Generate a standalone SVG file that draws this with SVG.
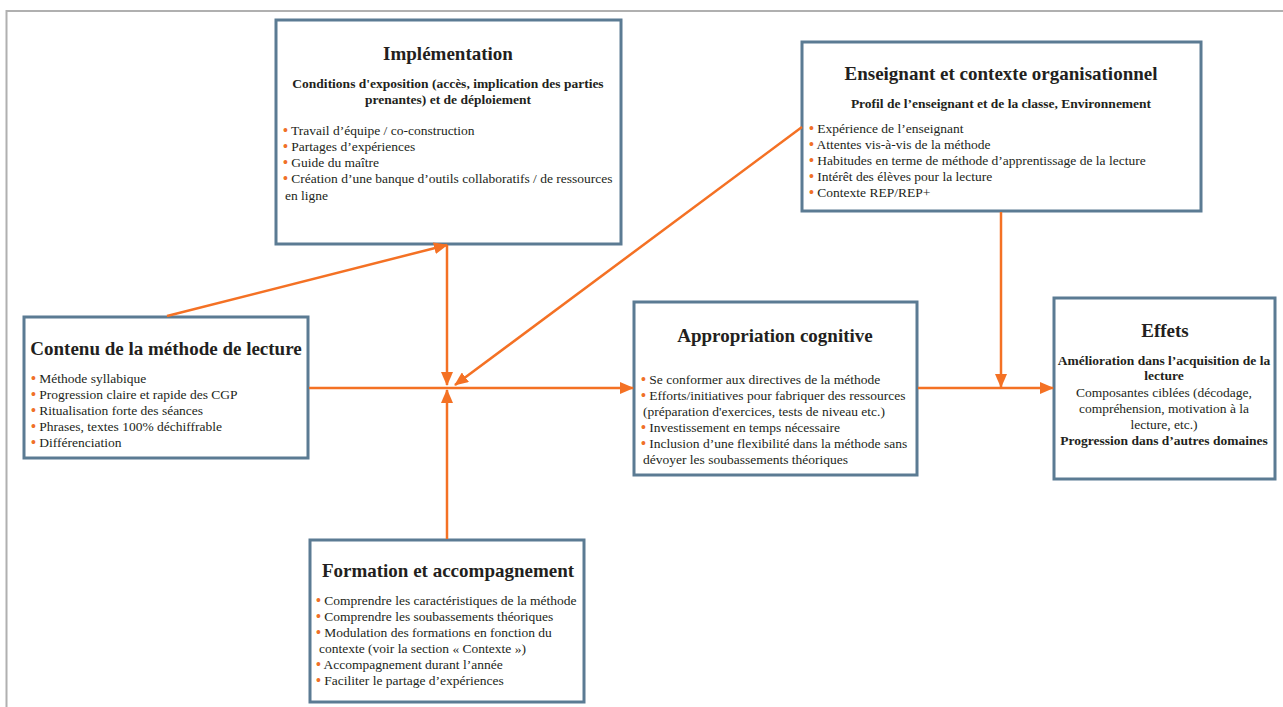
<svg xmlns="http://www.w3.org/2000/svg" width="1283" height="707" viewBox="0 0 1283 707">
<style>
.box{fill:#fff;stroke:#5b7b93;stroke-width:3}
.t{font-family:"Liberation Serif","Times New Roman",serif;fill:#231f20}
.title{font-size:19px;font-weight:bold;text-anchor:middle}
.sub{font-size:13.5px;font-weight:bold;text-anchor:middle}
.li{font-size:13.5px}
.b{fill:#f07027;font-size:14px;font-weight:bold}
.c{font-size:13.5px;text-anchor:middle}
.cb{font-size:13.5px;font-weight:bold;text-anchor:middle}
.con{fill:none;stroke:#f47124;stroke-width:2.5}
</style>
<defs>
<marker id="ah" markerUnits="userSpaceOnUse" markerWidth="14" markerHeight="12" refX="13" refY="6" orient="auto">
<path d="M0,0 L14,6 L0,12 Z" fill="#f47124"/>
</marker>
</defs>
<rect width="1283" height="707" fill="#fff"/>
<path d="M6.5,707 V11 H1283" fill="none" stroke="#b0b0b0" stroke-width="2"/>

<g id="implementation">
<rect class="box" x="276" y="20" width="345" height="224"/>
<text class="t title" x="448" y="60">Implémentation</text>
<text class="t sub" x="448" y="88">Conditions d'exposition (accès, implication des parties</text>
<text class="t sub" x="448" y="104">prenantes) et de déploiement</text>
<text class="t li" x="283" y="135"><tspan class="b">•</tspan> Travail d’équipe / co-construction</text>
<text class="t li" x="283" y="151"><tspan class="b">•</tspan> Partages d’expériences</text>
<text class="t li" x="283" y="167"><tspan class="b">•</tspan> Guide du maître</text>
<text class="t li" x="283" y="183"><tspan class="b">•</tspan> Création d’une banque d’outils collaboratifs / de ressources</text>
<text class="t li" x="285" y="200">en ligne</text>
</g>

<g id="enseignant">
<rect class="box" x="802" y="42" width="399" height="169"/>
<text class="t title" x="1001" y="80">Enseignant et contexte organisationnel</text>
<text class="t sub" x="1001" y="108">Profil de l’enseignant et de la classe, Environnement</text>
<text class="t li" x="809" y="133"><tspan class="b">•</tspan> Expérience de l’enseignant</text>
<text class="t li" x="809" y="149"><tspan class="b">•</tspan> Attentes vis-à-vis de la méthode</text>
<text class="t li" x="809" y="165"><tspan class="b">•</tspan> Habitudes en terme de méthode d’apprentissage de la lecture</text>
<text class="t li" x="809" y="181"><tspan class="b">•</tspan> Intérêt des élèves pour la lecture</text>
<text class="t li" x="809" y="197"><tspan class="b">•</tspan> Contexte REP/REP+</text>
</g>

<g id="contenu">
<rect class="box" x="24" y="317" width="284" height="141"/>
<text class="t title" x="166" y="355">Contenu de la méthode de lecture</text>
<text class="t li" x="31" y="383"><tspan class="b">•</tspan> Méthode syllabique</text>
<text class="t li" x="31" y="399"><tspan class="b">•</tspan> Progression claire et rapide des CGP</text>
<text class="t li" x="31" y="415"><tspan class="b">•</tspan> Ritualisation forte des séances</text>
<text class="t li" x="31" y="431"><tspan class="b">•</tspan> Phrases, textes 100% déchiffrable</text>
<text class="t li" x="31" y="447"><tspan class="b">•</tspan> Différenciation</text>
</g>

<g id="appropriation">
<rect class="box" x="634" y="302" width="283" height="173"/>
<text class="t title" x="775" y="342">Appropriation cognitive</text>
<text class="t li" x="641" y="384"><tspan class="b">•</tspan> Se conformer aux directives de la méthode</text>
<text class="t li" x="641" y="400"><tspan class="b">•</tspan> Efforts/initiatives pour fabriquer des ressources</text>
<text class="t li" x="643" y="416">(préparation d'exercices, tests de niveau etc.)</text>
<text class="t li" x="641" y="432"><tspan class="b">•</tspan> Investissement en temps nécessaire</text>
<text class="t li" x="641" y="448"><tspan class="b">•</tspan> Inclusion d’une flexibilité dans la méthode sans</text>
<text class="t li" x="643" y="464">dévoyer les soubassements théoriques</text>
</g>

<g id="effets">
<rect class="box" x="1054" y="298" width="221" height="181"/>
<text class="t title" x="1165" y="337">Effets</text>
<text class="t cb" x="1164" y="365">Amélioration dans l’acquisition de la</text>
<text class="t cb" x="1164" y="380">lecture</text>
<text class="t c" x="1164" y="397">Composantes ciblées (décodage,</text>
<text class="t c" x="1164" y="413">compréhension, motivation à la</text>
<text class="t c" x="1164" y="429">lecture, etc.)</text>
<text class="t cb" x="1164" y="445">Progression dans d’autres domaines</text>
</g>

<g id="formation">
<rect class="box" x="310" y="540" width="274" height="162"/>
<text class="t title" x="448" y="577">Formation et accompagnement</text>
<text class="t li" x="316" y="605"><tspan class="b">•</tspan> Comprendre les caractéristiques de la méthode</text>
<text class="t li" x="316" y="621"><tspan class="b">•</tspan> Comprendre les soubassements théoriques</text>
<text class="t li" x="316" y="637"><tspan class="b">•</tspan> Modulation des formations en fonction du</text>
<text class="t li" x="319" y="653">contexte (voir la section « Contexte »)</text>
<text class="t li" x="316" y="669"><tspan class="b">•</tspan> Accompagnement durant l’année</text>
<text class="t li" x="316" y="685"><tspan class="b">•</tspan> Faciliter le partage d’expériences</text>
</g>

<g id="connectors">
<line class="con" x1="167" y1="316" x2="447" y2="245" marker-end="url(#ah)"/>
<line class="con" x1="447" y1="245" x2="447" y2="385" marker-end="url(#ah)"/>
<line class="con" x1="802" y1="127" x2="455" y2="385" marker-end="url(#ah)"/>
<line class="con" x1="309" y1="388" x2="633" y2="388" marker-end="url(#ah)"/>
<line class="con" x1="447" y1="539" x2="447" y2="390" marker-end="url(#ah)"/>
<line class="con" x1="918" y1="388" x2="1053" y2="388" marker-end="url(#ah)"/>
<line class="con" x1="1001" y1="212" x2="1001" y2="387" marker-end="url(#ah)"/>
</g>
</svg>
